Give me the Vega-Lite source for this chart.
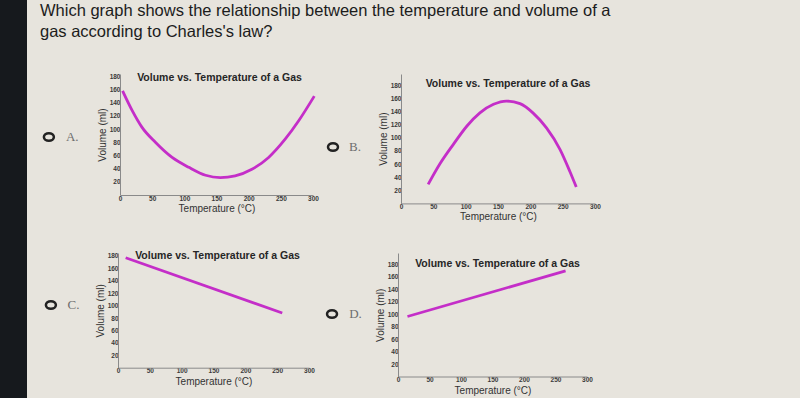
{
  "$schema": "https://vega.github.io/schema/vega-lite/v6.json",
  "padding": {"left": 0, "top": 0, "bottom": 0, "right": 188},
  "background": "#e7e4dd",
  "spacing": 0,
  "config": {
    "view": {"stroke": null},
    "axis": {
      "domainColor": "#8a8a8a",
      "domainWidth": 1,
      "ticks": false,
      "grid": false,
      "labelFont": "Liberation Sans",
      "labelFontSize": 6.5,
      "labelFontWeight": "bold",
      "labelColor": "#3a3a3a",
      "labelPadding": 0,
      "labelFlush": false,
      "labelOverlap": false,
      "titleFont": "Liberation Sans",
      "titleFontSize": 10,
      "titleFontWeight": "normal",
      "titleColor": "#333333",
      "titlePadding": 2
    },
    "title": {"font": "Liberation Sans", "fontSize": 10.5, "fontWeight": "bold", "color": "#262626"}
  },
  "datasets": {
    "A": [
      {"temperature": 4, "volume": 158}, {"temperature": 19, "volume": 128}, {"temperature": 34, "volume": 103},
      {"temperature": 55, "volume": 80}, {"temperature": 81, "volume": 57}, {"temperature": 107, "volume": 42},
      {"temperature": 133, "volume": 30}, {"temperature": 156, "volume": 26.5}, {"temperature": 179, "volume": 29},
      {"temperature": 205, "volume": 39}, {"temperature": 231, "volume": 57}, {"temperature": 257, "volume": 85},
      {"temperature": 278, "volume": 113}, {"temperature": 302, "volume": 150}
    ],
    "B": [
      {"temperature": 42, "volume": 29}, {"temperature": 60, "volume": 60}, {"temperature": 81, "volume": 90},
      {"temperature": 102, "volume": 118}, {"temperature": 122, "volume": 138}, {"temperature": 143, "volume": 151},
      {"temperature": 163, "volume": 156}, {"temperature": 184, "volume": 152}, {"temperature": 204, "volume": 138},
      {"temperature": 225, "volume": 115}, {"temperature": 246, "volume": 82}, {"temperature": 261, "volume": 49},
      {"temperature": 271, "volume": 25}
    ],
    "C": [{"temperature": 12, "volume": 177}, {"temperature": 258, "volume": 88}],
    "D": [{"temperature": 15, "volume": 96}, {"temperature": 266, "volume": 169}],
    "question": [
      {"block": "question", "line": 1, "text": "Which graph shows the relationship between the temperature and volume of a"},
      {"block": "question", "line": 2, "text": "gas according to Charles's law?"}
    ],
    "options": [
      {"option": "A", "part": "radio", "label": ""}, {"option": "A", "part": "letter", "label": "A."},
      {"option": "B", "part": "radio", "label": ""}, {"option": "B", "part": "letter", "label": "B."},
      {"option": "C", "part": "radio", "label": ""}, {"option": "C", "part": "letter", "label": "C."},
      {"option": "D", "part": "radio", "label": ""}, {"option": "D", "part": "letter", "label": "D."}
    ],
    "bezel": [{"part": "screen edge"}]
  },
  "hconcat": [
    {
      "width": 27, "height": 398,
      "data": {"name": "bezel"},
      "mark": {"type": "rect", "color": "#16191d"},
      "encoding": {}
    },
    {
      "spacing": 28,
      "vconcat": [
        {
          "width": 585, "height": 44.5,
          "data": {"name": "question"},
          "mark": {"type": "text", "align": "left", "baseline": "alphabetic", "font": "Liberation Sans", "fontSize": 16.5, "color": "#1c1c1c"},
          "encoding": {
            "x": {"field": "block", "type": "nominal", "scale": {"domain": ["question"], "align": 0.0222}, "axis": null},
            "y": {"field": "line", "type": "ordinal", "scale": {"type": "point", "domain": [1, 2], "padding": 0.585, "align": 0.667}, "axis": null},
            "text": {"field": "text"}
          }
        },
        {
          "spacing": 0,
          "hconcat": [
            {
              "width": 70, "height": 126,
              "data": {"name": "options"},
              "transform": [{"filter": "datum.option == 'A'"}],
              "layer": [
                {"transform": [{"filter": "datum.part == 'radio'"}],
                 "mark": {"type": "point", "shape": "M-1,0A1,0.75,0,1,0,1,0A1,0.75,0,1,0,-1,0Z", "filled": false, "size": 100, "strokeWidth": 2.5, "color": "#222222", "opacity": 1},
                 "encoding": {"x": {"field": "part", "type": "nominal", "scale": {"domain": ["radio", "letter"], "padding": 1.167, "align": 0.469}, "axis": null}}},
                {"transform": [{"filter": "datum.part == 'letter'"}],
                 "mark": {"type": "text", "font": "Liberation Serif", "fontSize": 13, "color": "#6e6e6e"},
                 "encoding": {"x": {"field": "part", "type": "nominal", "scale": {"domain": ["radio", "letter"], "padding": 1.167, "align": 0.469}, "axis": null}, "text": {"field": "label"}}}
              ]
            },
            {
              "width": 193, "height": 121,
              "title": {"text": "Volume vs. Temperature of a Gas", "offset": -10.3, "dx": 3},
              "data": {"name": "A"},
              "mark": {"type": "line", "interpolate": "monotone", "color": "#c42ec8", "strokeWidth": 2.8},
              "encoding": {
                "x": {"field": "temperature", "type": "quantitative", "scale": {"domain": [0, 300], "nice": false}, "axis": {"title": "Temperature (°C)", "values": [0, 50, 100, 150, 200, 250, 300]}},
                "y": {"field": "volume", "type": "quantitative", "scale": {"domain": [0, 183.6], "nice": false}, "axis": {"title": "Volume (ml)", "values": [20, 40, 60, 80, 100, 120, 140, 160, 180]}}
              }
            },
            {
              "width": 58, "height": 146,
              "data": {"name": "options"},
              "transform": [{"filter": "datum.option == 'B'"}],
              "layer": [
                {"transform": [{"filter": "datum.part == 'radio'"}],
                 "mark": {"type": "point", "shape": "M-1,0A1,0.75,0,1,0,1,0A1,0.75,0,1,0,-1,0Z", "filled": false, "size": 100, "strokeWidth": 2.5, "color": "#222222", "opacity": 1},
                 "encoding": {"x": {"field": "part", "type": "nominal", "scale": {"domain": ["radio", "letter"], "padding": 0.818, "align": 0.361}, "axis": null}}},
                {"transform": [{"filter": "datum.part == 'letter'"}],
                 "mark": {"type": "text", "font": "Liberation Serif", "fontSize": 13, "color": "#6e6e6e"},
                 "encoding": {"x": {"field": "part", "type": "nominal", "scale": {"domain": ["radio", "letter"], "padding": 0.818, "align": 0.361}, "axis": null}, "text": {"field": "label"}}}
              ]
            },
            {
              "width": 194, "height": 129.4,
              "title": {"text": "Volume vs. Temperature of a Gas", "offset": -15, "dx": 10},
              "data": {"name": "B"},
              "mark": {"type": "line", "interpolate": "monotone", "color": "#c42ec8", "strokeWidth": 2.8},
              "encoding": {
                "x": {"field": "temperature", "type": "quantitative", "scale": {"domain": [0, 300], "nice": false}, "axis": {"title": "Temperature (°C)", "values": [0, 50, 100, 150, 200, 250, 300]}},
                "y": {"field": "volume", "type": "quantitative", "scale": {"domain": [0, 197.2], "nice": false}, "axis": {"title": "Volume (ml)", "values": [20, 40, 60, 80, 100, 120, 140, 160, 180]}}
              }
            }
          ]
        },
        {
          "spacing": 0,
          "hconcat": [
            {
              "width": 68, "height": 104,
              "data": {"name": "options"},
              "transform": [{"filter": "datum.option == 'C'"}],
              "layer": [
                {"transform": [{"filter": "datum.part == 'radio'"}],
                 "mark": {"type": "point", "shape": "M-1,0A1,0.75,0,1,0,1,0A1,0.75,0,1,0,-1,0Z", "filled": false, "size": 100, "strokeWidth": 2.5, "color": "#222222", "opacity": 1},
                 "encoding": {"x": {"field": "part", "type": "nominal", "scale": {"domain": ["radio", "letter"], "padding": 1.08, "align": 0.527}, "axis": null}}},
                {"transform": [{"filter": "datum.part == 'letter'"}],
                 "mark": {"type": "text", "font": "Liberation Serif", "fontSize": 13, "color": "#6e6e6e"},
                 "encoding": {"x": {"field": "part", "type": "nominal", "scale": {"domain": ["radio", "letter"], "padding": 1.08, "align": 0.527}, "axis": null}, "text": {"field": "label"}}}
              ]
            },
            {
              "width": 191, "height": 114.7,
              "title": {"text": "Volume vs. Temperature of a Gas", "offset": -9.3, "dx": 4},
              "data": {"name": "C"},
              "mark": {"type": "line", "color": "#c42ec8", "strokeWidth": 2.8},
              "encoding": {
                "x": {"field": "temperature", "type": "quantitative", "scale": {"domain": [0, 300], "nice": false}, "axis": {"title": "Temperature (°C)", "values": [0, 50, 100, 150, 200, 250, 300]}},
                "y": {"field": "volume", "type": "quantitative", "scale": {"domain": [0, 184.7], "nice": false}, "axis": {"title": "Volume (ml)", "values": [20, 40, 60, 80, 100, 120, 140, 160, 180]}}
              }
            },
            {
              "width": 60, "height": 122,
              "data": {"name": "options"},
              "transform": [{"filter": "datum.option == 'D'"}],
              "layer": [
                {"transform": [{"filter": "datum.part == 'radio'"}],
                 "mark": {"type": "point", "shape": "M-1,0A1,0.75,0,1,0,1,0A1,0.75,0,1,0,-1,0Z", "filled": false, "size": 100, "strokeWidth": 2.5, "color": "#222222", "opacity": 1},
                 "encoding": {"x": {"field": "part", "type": "nominal", "scale": {"domain": ["radio", "letter"], "padding": 0.777, "align": 0.466}, "axis": null}}},
                {"transform": [{"filter": "datum.part == 'letter'"}],
                 "mark": {"type": "text", "font": "Liberation Serif", "fontSize": 13, "color": "#6e6e6e"},
                 "encoding": {"x": {"field": "part", "type": "nominal", "scale": {"domain": ["radio", "letter"], "padding": 0.777, "align": 0.466}, "axis": null}, "text": {"field": "label"}}}
              ]
            },
            {
              "width": 189, "height": 123.5,
              "title": {"text": "Volume vs. Temperature of a Gas", "offset": -16, "dx": 5},
              "data": {"name": "D"},
              "mark": {"type": "line", "color": "#c42ec8", "strokeWidth": 2.8},
              "encoding": {
                "x": {"field": "temperature", "type": "quantitative", "scale": {"domain": [0, 300], "nice": false}, "axis": {"title": "Temperature (°C)", "values": [0, 50, 100, 150, 200, 250, 300]}},
                "y": {"field": "volume", "type": "quantitative", "scale": {"domain": [0, 197.6], "nice": false}, "axis": {"title": "Volume (ml)", "values": [20, 40, 60, 80, 100, 120, 140, 160, 180]}}
              }
            }
          ]
        }
      ]
    }
  ]
}
